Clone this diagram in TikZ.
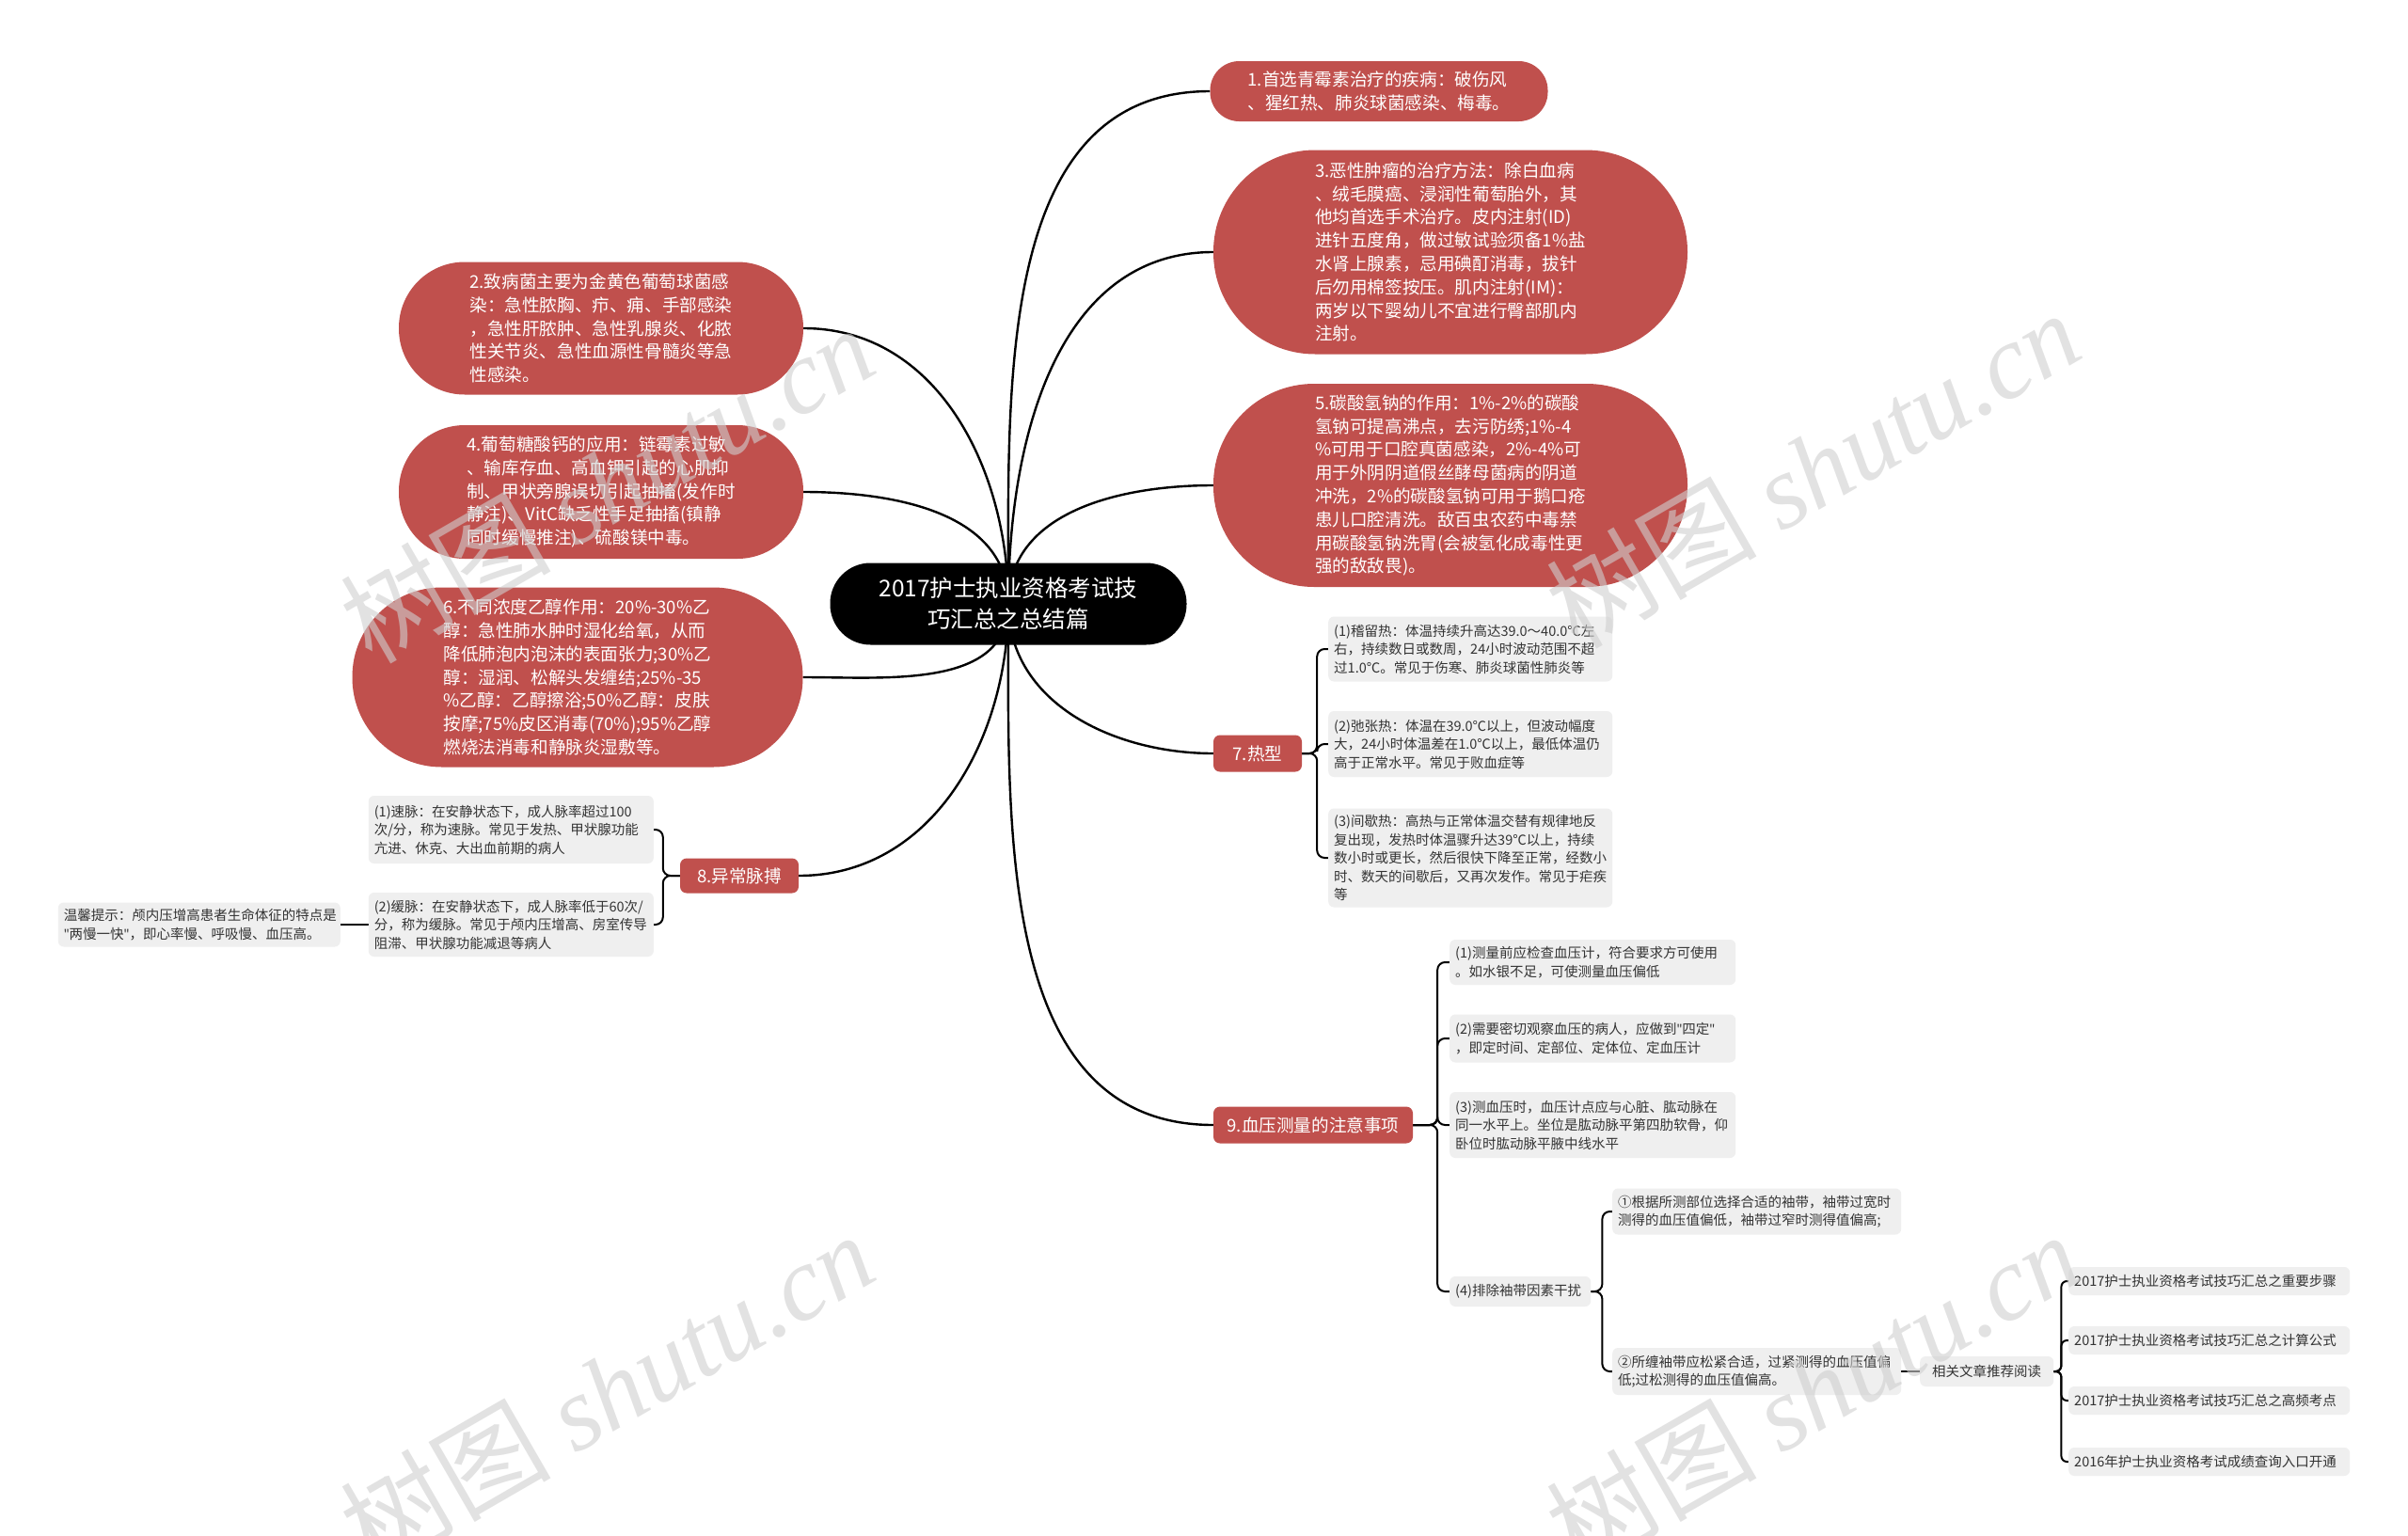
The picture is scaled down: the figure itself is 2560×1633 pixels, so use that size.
\documentclass[tikz,border=0pt]{standalone}
\usepackage{fontspec}
\setmainfont{Noto Sans CJK SC}
\newfontfamily\wmserif{Liberation Serif}
\newfontfamily\latinq{Noto Sans}
\newcommand{\sq}{{\latinq"}}
\usetikzlibrary{calc}
\pgfdeclarelayer{bbg}
\pgfdeclarelayer{bg}
\pgfdeclarelayer{fg}
\pgfsetlayers{bbg,bg,main,fg}
\definecolor{nred}{HTML}{C0504D}
\definecolor{ngrey}{HTML}{EFEFEF}
\definecolor{ntext}{HTML}{333333}
\definecolor{wmc}{HTML}{CFCFCF}
\begin{document}
\begin{tikzpicture}[x=1pt,y=-1pt,
  rootbox/.style={fill=black,text=white,rounded corners=43pt,minimum width=379pt,minimum height=87pt,align=center,font=\fontsize{24.5}{33}\selectfont,inner sep=0pt},
  redbox/.style={fill=nred,text=white,align=left,font=\fontsize{18.6}{24.8}\selectfont,inner sep=0pt},
  labbox/.style={fill=nred,text=white,rounded corners=7pt,align=center,font=\fontsize{18.6}{24.8}\selectfont,inner sep=0pt},
  greybox/.style={fill=ngrey,text=ntext,rounded corners=6pt,align=left,font=\fontsize{14.5}{19.5}\selectfont,inner xsep=6pt,inner ysep=0pt},
  trunk/.style={draw=black,line width=2.4pt},
  br/.style={draw=black,line width=2pt,rounded corners=8pt},
  wm/.style={text=wmc,opacity=0.6,rotate=30,font=\fontsize{112}{120}\selectfont,inner sep=0pt}
]
\useasboundingbox (0,0) rectangle (2560,1633);
\begin{pgfonlayer}{bbg}
\fill[white] (0,0) rectangle (2560,1633);
\end{pgfonlayer}

% root
\node[rootbox] (root) at (1072,642) {2017护士执业资格考试技\\巧汇总之总结篇};

% right red nodes
\node[redbox,minimum width=359pt,minimum height=64pt,rounded corners=31pt] (n1) at (1466,97)
 {1.首选青霉素治疗的疾病：破伤风\\、猩红热、肺炎球菌感染、梅毒。};
\node[redbox,minimum width=504pt,minimum height=217pt,rounded corners=108pt] (n3) at (1542,268)
 {3.恶性肿瘤的治疗方法：除白血病\\、绒毛膜癌、浸润性葡萄胎外，其\\他均首选手术治疗。皮内注射(ID)\\进针五度角，做过敏试验须备1\%盐\\水肾上腺素，忌用碘酊消毒，拔针\\后勿用棉签按压。肌内注射(IM)：\\两岁以下婴幼儿不宜进行臀部肌内\\注射。};
\node[redbox,minimum width=504pt,minimum height=216pt,rounded corners=107pt] (n5) at (1542,516)
 {5.碳酸氢钠的作用：1\%-2\%的碳酸\\氢钠可提高沸点，去污防绣;1\%-4\\\%可用于口腔真菌感染，2\%-4\%可\\用于外阴阴道假丝酵母菌病的阴道\\冲洗，2\%的碳酸氢钠可用于鹅口疮\\患儿口腔清洗。敌百虫农药中毒禁\\用碳酸氢钠洗胃(会被氢化成毒性更\\强的敌敌畏)。};

% left red nodes
\node[redbox,minimum width=430pt,minimum height=141pt,rounded corners=70pt] (n2) at (639,349)
 {2.致病菌主要为金黄色葡萄球菌感\\染：急性脓胸、疖、痈、手部感染\\，急性肝脓肿、急性乳腺炎、化脓\\性关节炎、急性血源性骨髓炎等急\\性感染。};
\node[redbox,minimum width=430pt,minimum height=142pt,rounded corners=70pt] (n4) at (639,523)
 {4.葡萄糖酸钙的应用：链霉素过敏\\、输库存血、高血钾引起的心肌抑\\制、甲状旁腺误切引起抽搐(发作时\\静注)、VitC缺乏性手足抽搐(镇静\\同时缓慢推注)、硫酸镁中毒。};
\node[redbox,minimum width=479pt,minimum height=191pt,rounded corners=95pt] (n6) at (614,720)
 {6.不同浓度乙醇作用：20\%-30\%乙\\醇：急性肺水肿时湿化给氧，从而\\降低肺泡内泡沫的表面张力;30\%乙\\醇：湿润、松解头发缠结;25\%-35\\\%乙醇：乙醇擦浴;50\%乙醇：皮肤\\按摩;75\%皮区消毒(70\%);95\%乙醇\\燃烧法消毒和静脉炎湿敷等。};

% label nodes
\node[labbox,minimum width=94pt,minimum height=39pt] (n7) at (1337,801) {7.热型};
\node[labbox,minimum width=126pt,minimum height=37pt] (n8) at (786,931) {8.异常脉搏};
\node[labbox,minimum width=212pt,minimum height=39pt] (n9) at (1396,1196) {9.血压测量的注意事项};

% 7 children
\node[greybox,anchor=west,text width=290pt,minimum height=69pt] (n7a) at (1412,690)
 {(1)稽留热：体温持续升高达39.0～40.0℃左\\右，持续数日或数周，24小时波动范围不超\\过1.0℃。常见于伤寒、肺炎球菌性肺炎等};
\node[greybox,anchor=west,text width=290pt,minimum height=70pt] (n7b) at (1412,791)
 {(2)弛张热：体温在39.0℃以上，但波动幅度\\大，24小时体温差在1.0℃以上，最低体温仍\\高于正常水平。常见于败血症等};
\node[greybox,anchor=west,text width=290pt,minimum height=105pt] (n7c) at (1412,912)
 {(3)间歇热：高热与正常体温交替有规律地反\\复出现，发热时体温骤升达39℃以上，持续\\数小时或更长，然后很快下降至正常，经数小\\时、数天的间歇后，又再次发作。常见于疟疾\\等};

% 8 children
\node[greybox,anchor=east,text width=291pt,minimum height=72pt] (n8a) at (695,882)
 {(1)速脉：在安静状态下，成人脉率超过100\\次/分，称为速脉。常见于发热、甲状腺功能\\亢进、休克、大出血前期的病人};
\node[greybox,anchor=east,text width=291pt,minimum height=68pt] (n8b) at (695,983)
 {(2)缓脉：在安静状态下，成人脉率低于60次/\\分，称为缓脉。常见于颅内压增高、房室传导\\阻滞、甲状腺功能减退等病人};
\node[greybox,anchor=east,text width=288pt,minimum height=47pt] (tip) at (362,983)
 {温馨提示：颅内压增高患者生命体征的特点是\\\sq 两慢一快\sq，即心率慢、呼吸慢、血压高。};

% 9 children
\node[greybox,anchor=west,text width=292pt,minimum height=48pt] (n9a) at (1541,1023)
 {(1)测量前应检查血压计，符合要求方可使用\\。如水银不足，可使测量血压偏低};
\node[greybox,anchor=west,text width=292pt,minimum height=51pt] (n9b) at (1541,1104)
 {(2)需要密切观察血压的病人，应做到\sq 四定\sq\\，即定时间、定部位、定体位、定血压计};
\node[greybox,anchor=west,text width=292pt,minimum height=70pt] (n9c) at (1541,1196)
 {(3)测血压时，血压计点应与心脏、肱动脉在\\同一水平上。坐位是肱动脉平第四肋软骨，仰\\卧位时肱动脉平腋中线水平};
\node[greybox,anchor=west,text width=138pt,minimum height=32pt] (n9d) at (1541,1373)
 {(4)排除袖带因素干扰};
\node[greybox,anchor=west,text width=295pt,minimum height=49pt] (n9d1) at (1714,1288)
 {①根据所测部位选择合适的袖带，袖带过宽时\\测得的血压值偏低，袖带过窄时测得值偏高;};
\node[greybox,anchor=west,text width=295pt,minimum height=50pt] (n9d2) at (1714,1458)
 {②所缠袖带应松紧合适，过紧测得的血压值偏\\低;过松测得的血压值偏高。};
\node[greybox,anchor=west,text width=130pt,minimum height=32pt,align=center] (rel) at (2041,1458)
 {相关文章推荐阅读};

% links
\node[greybox,anchor=west,text width=287pt,minimum height=30pt] (l1) at (2199,1362) {2017护士执业资格考试技巧汇总之重要步骤};
\node[greybox,anchor=west,text width=287pt,minimum height=30pt] (l2) at (2199,1425) {2017护士执业资格考试技巧汇总之计算公式};
\node[greybox,anchor=west,text width=287pt,minimum height=30pt] (l3) at (2199,1489) {2017护士执业资格考试技巧汇总之高频考点};
\node[greybox,anchor=west,text width=287pt,minimum height=30pt] (l4) at (2199,1554) {2016年护士执业资格考试成绩查询入口开通};

% connectors
\begin{pgfonlayer}{bg}
\draw[trunk] (root.center) to[out=90,in=180] (n1.west);
\draw[trunk] (root.center) to[out=90,in=180] (n3.west);
\draw[trunk] (root.center) to[out=90,in=180] (n5.west);
\draw[trunk] (root.center) to[out=-90,in=180] (n7.west);
\draw[trunk] (root.center) to[out=-90,in=180] (n9.west);
\draw[trunk] (root.center) to[out=90,in=0] (n2.east);
\draw[trunk] (root.center) to[out=90,in=0] (n4.east);
\draw[trunk] (root.center) to[out=-90,in=0] (n6.east);
\draw[trunk] (root.center) to[out=-90,in=0] (n8.east);

\draw[br] (n7.east) -- ++(16,0) |- (n7a.west);
\draw[br] (n7.east) -- ++(16,0) |- (n7b.west);
\draw[br] (n7.east) -- ++(16,0) |- (n7c.west);

\draw[br] (n8.west) -- ++(-18,0) |- (n8a.east);
\draw[br] (n8.west) -- ++(-18,0) |- (n8b.east);
\draw[br] (n8b.west) -- (tip.east);

\draw[br] (n9.east) -- ++(26,0) |- (n9a.west);
\draw[br] (n9.east) -- ++(26,0) |- (n9b.west);
\draw[br] (n9.east) -- ++(26,0) |- (n9c.west);
\draw[br] (n9.east) -- ++(26,0) |- (n9d.west);

\draw[br] (n9d.east) -- ++(12,0) |- (n9d1.west);
\draw[br] (n9d.east) -- ++(12,0) |- (n9d2.west);
\draw[br] (n9d2.east) -- (rel.west);

\draw[br,rounded corners=6pt] (rel.east) -- ++(8,0) |- (l1.west);
\draw[br,rounded corners=6pt] (rel.east) -- ++(8,0) |- (l2.west);
\draw[br,rounded corners=6pt] (rel.east) -- ++(8,0) |- (l3.west);
\draw[br,rounded corners=6pt] (rel.east) -- ++(8,0) |- (l4.west);
\end{pgfonlayer}

% watermarks
\begin{pgfonlayer}{fg}
\begin{scope}
\clip (0,0) rectangle (2560,1633);
\node[wm] (wm1) at (645,514) {树图 {\wmserif\itshape shutu.cn}};
\node[wm] (wm2) at (1927,498) {树图 {\wmserif\itshape shutu.cn}};
\node[wm] (wm3) at (645,1478) {树图 {\wmserif\itshape shutu.cn}};
\node[wm] (wm4) at (1927,1478) {树图 {\wmserif\itshape shutu.cn}};
\end{scope}
\end{pgfonlayer}
\end{tikzpicture}
\end{document}
